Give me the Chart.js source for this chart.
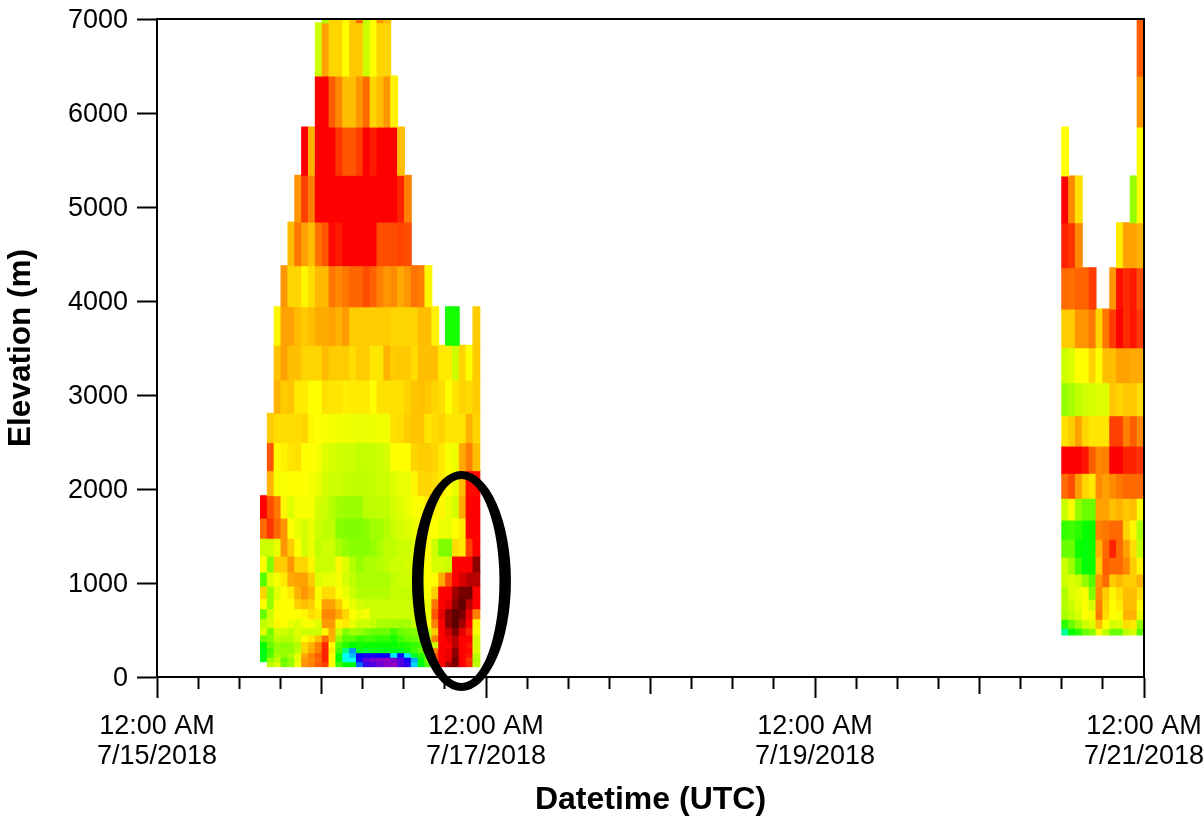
<!DOCTYPE html>
<html><head><meta charset="utf-8">
<style>html,body{margin:0;padding:0;background:#fff}#w{width:1204px;height:822px;position:relative}canvas{filter:blur(0.5px)}</style>
<script src="https://cdn.jsdelivr.net/npm/chart.js@4"></script>
</head><body><div id="w"><canvas id="c" width="1204" height="822"></canvas></div>
<script>
const xTickHours = [0,6,12,18,24,30,36,42,48,54,60,66,72,78,84,90,96,102,108,114,120,126,132,138,144];
const xLabels = {0:['12:00 AM','7/15/2018'],48:['12:00 AM','7/17/2018'],96:['12:00 AM','7/19/2018'],144:['12:00 AM','7/21/2018']};
const yTicks = [0,1000,2000,3000,4000,5000,6000,7000];
const xTitle = 'Datetime (UTC)';
const yTitle = 'Elevation (m)';

// Gate edges (m), top to bottom
const leftEdges = [7000,6960,6394,5851,5337,4840,4376,3939,3529,3160,2805,2493,2195,1929,1691,1476,1287,1117,968,833,727,620,524,447,376,312,259,210,163,110];
const rightEdges = [7000,6394,5851,5330,4833,4354,3915,3503,3131,2780,2457,2167,1901,1670,1465,1273,1096,961,827,713,614,518,447];
const leftStartHour = 15.1;
const rightStartHour = 132;

// Colour index per gate: hue in degrees; negative = darker than red
const leftStartCol = [9,8,8,6,5,4,3,2,2,2,1,1,1,0,0,0,0,0,0,0,0,0,0,0,0,0,0,0,0];
const leftRows = [
[80,50,50,58,47,25,75,60,35,45],
[72,38,50,50,60,47,47,72,60,50,50],
[0,0,22,32,45,45,35,25,50,45,35,57],
[0,42,0,0,0,12,20,20,14,0,6,0,0,0,45],
[35,15,30,0,0,0,0,0,0,0,0,0,0,0,0,8,30],
[45,28,38,45,27,20,2,6,0,0,0,0,0,18,18,18,16,18],
[35,50,50,58,52,44,44,28,32,28,24,24,18,23,30,35,33,40,35,27,30,58],
[58,38,38,44,47,45,40,40,38,42,36,48,48,48,48,48,48,50,50,50,50,45,45,57,null,115,115,null,null,48],
[46,38,45,45,50,50,50,44,48,48,48,52,48,48,54,54,42,48,47,47,52,45,45,45,55,55,72,50,60,48],
[42,48,46,55,55,60,60,53,54,54,56,55,55,55,60,53,53,53,53,50,46,45,47,50,52,60,54,50,52,48],
[48,52,52,52,52,50,58,60,61,62,63,63,64,65,65,64,63,63,53,52,48,46,46,54,52,50,54,54,54,42,50],
[20,60,57,54,53,60,60,62,68,70,71,72,72,74,74,73,72,70,60,60,60,50,48,48,50,55,62,64,40,30,45],
[42,62,62,60,60,60,62,65,70,72,72,74,75,75,75,74,72,72,68,65,65,58,50,50,52,55,60,65,45,2,2],
[0,18,28,58,68,62,62,62,70,72,78,82,84,84,84,76,75,75,75,70,68,65,62,60,55,58,58,65,70,40,0,0],
[25,12,25,35,60,65,70,65,72,75,75,88,90,90,90,88,82,82,78,72,70,68,65,60,60,60,65,65,60,55,0,0],
[72,72,65,35,48,60,70,65,75,72,72,80,85,88,88,88,85,80,75,75,72,72,68,65,60,72,90,90,52,55,15,0],
[60,90,48,48,35,50,50,58,72,72,72,58,68,78,85,80,80,78,75,72,72,70,68,62,60,70,70,72,0,0,0,-25],
[100,68,62,55,40,38,38,48,68,65,65,62,70,75,80,80,80,80,80,75,72,72,70,65,60,60,40,18,0,-8,-15,-15],
[50,85,68,60,55,42,35,42,62,52,52,60,65,72,78,78,78,78,78,74,74,74,74,68,62,48,0,0,-20,-30,-30,0],
[60,85,62,60,60,48,45,48,60,38,38,48,60,65,70,72,72,72,72,72,72,72,70,68,65,28,0,-5,-25,-35,-15,0],
[95,72,60,60,60,60,58,52,55,32,32,40,50,60,65,62,72,72,72,72,72,72,72,70,65,20,-5,-25,-35,-30,-5,30],
[75,70,58,60,65,68,62,62,68,36,36,58,55,65,72,72,75,80,80,80,82,82,75,70,60,30,0,-25,-35,-20,0,58],
[68,92,70,72,75,68,72,72,72,58,40,72,90,82,85,90,95,95,95,105,95,92,90,80,75,48,0,-10,-28,-5,8,62],
[95,90,75,78,78,70,60,55,45,25,42,85,100,100,108,105,105,110,108,115,105,98,95,88,78,30,0,-5,-15,0,0,70],
[120,95,85,88,85,78,50,42,30,10,60,100,110,120,115,118,118,118,118,118,115,112,108,105,95,72,0,0,-15,0,5,70],
[125,105,85,85,85,75,50,40,30,8,55,105,150,205,125,130,125,125,125,125,125,115,105,95,88,30,0,-5,-25,0,2,68],
[125,100,80,85,80,65,40,30,22,8,60,118,180,195,240,245,245,240,240,185,235,185,130,110,95,20,0,-3,-25,0,5,75],
[125,85,75,95,85,65,35,32,25,8,60,120,175,180,245,265,275,280,285,275,260,245,200,120,90,20,0,-5,-30,0,12,80],
[null,75,68,92,85,62,35,30,22,15,60,105,120,120,215,255,260,270,280,285,262,250,190,125,100,60,0,-20,-28,0,10,75]
];
const n = null;
const rightRows = [
[n,n,n,n,n,n,n,n,n,n,n,22],
[n,n,n,n,n,n,n,n,n,n,n,35],
[60,n,n,n,n,n,n,n,n,n,n,60],
[0,33,53,n,n,n,n,n,n,n,85,60],
[8,12,32,n,n,n,n,n,55,38,38,42],
[25,26,23,23,14,n,n,35,3,10,6,18],
[48,48,35,35,28,50,28,14,0,10,5,14],
[72,68,60,60,50,60,45,45,38,38,40,40],
[85,80,75,72,70,68,68,47,50,47,47,52],
[53,48,38,50,54,54,54,15,15,30,22,32],
[0,0,0,5,22,32,30,0,0,8,8,12],
[25,18,37,50,55,33,38,33,28,25,25,25],
[72,62,85,95,95,38,38,45,42,47,45,62],
[108,105,110,118,120,30,28,25,25,50,58,80],
[95,95,118,122,118,42,25,8,25,38,52,75],
[72,82,105,122,120,48,22,25,25,32,48,58],
[72,68,72,85,100,35,25,48,43,48,48,42],
[78,68,65,62,90,33,48,58,52,45,45,52],
[78,72,66,62,70,30,50,60,55,45,45,60],
[80,75,70,60,62,28,52,60,62,42,42,65],
[110,95,82,72,68,45,60,70,68,52,55,85],
[155,120,110,95,88,62,75,95,95,75,70,100]
];

// Ellipse annotation in data units: centre, outer and inner half-sizes
const ringHour = 44.42, ringElev = 1021;
const ringOuter = [7.22, 1170], ringInner = [5.54, 1085];

function cellColor(v){
  if (v < 0) return `hsl(0,100%,${50 + v * 0.9}%)`;
  if (v > 240) return `hsl(${v},100%,${50 - (v - 240) * 0.27}%)`;
  return `hsl(${v},100%,50%)`;
}
function addCells(sets, rows, edges, startHour, startCols){
  rows.forEach((row, r) => {
    const pts = [], cols = [];
    row.forEach((v, i) => {
      if (v === null) return;
      const col = (startCols ? startCols[r] : 0) + i;
      pts.push({x: startHour + col + 0.5, y: [edges[r + 1], edges[r]]});
      cols.push(cellColor(v));
    });
    sets.push({data: pts, backgroundColor: cols, grouped: false, barPercentage: 1, categoryPercentage: 1, borderWidth: 0, inflateAmount: 0.5});
  });
}
const datasets = [];
addCells(datasets, leftRows, leftEdges, leftStartHour, leftStartCol);
addCells(datasets, rightRows, rightEdges, rightStartHour, null);

const ringPlugin = {id:'ring', afterDraw(ch){
  const sx = ch.scales.x, sy = ch.scales.y, g = ch.ctx;
  const cx = sx.getPixelForValue(ringHour), cy = sy.getPixelForValue(ringElev);
  g.save(); g.beginPath();
  [ringOuter, ringInner].forEach(([dh, de]) => {
    const rx = sx.getPixelForValue(ringHour + dh) - cx;
    const ry = cy - sy.getPixelForValue(ringElev + de);
    g.moveTo(cx + rx, cy);
    g.ellipse(cx, cy, rx, ry, 0, 0, Math.PI * 2);
  });
  g.fillStyle = '#000'; g.fill('evenodd'); g.restore();
}};
const FONT = '"Liberation Sans", Arial, sans-serif';
const tickDash = ctx => {
  const h = ctx.tick ? ctx.tick.value : 0;
  if (h % 48 === 0) return [];
  return h % 24 === 0 ? [16, 100] : [11, 100];
};
new Chart(document.getElementById('c'), {
  type: 'bar',
  data: {datasets},
  options: {
    responsive: false, animation: false,
    layout: {padding: {top: 19, right: 60, left: 0, bottom: 0}},
    plugins: {legend: {display: false}, tooltip: {enabled: false}},
    scales: {
      x: {
        type: 'linear', min: 0, max: 144, offset: false,
        afterBuildTicks(s){ s.ticks = xTickHours.map(v => ({value: v})); },
        afterFit(s){ s.height = 145; s.paddingLeft = 0; s.paddingRight = 0; },
        grid: {offset: false, drawOnChartArea: false, drawTicks: true, tickLength: 21, tickColor: '#000', tickWidth: 2, tickBorderDash: tickDash},
        border: {color: '#000', width: 2, z: 1},
        ticks: {autoSkip: false, maxRotation: 0, minRotation: 0, padding: 14, color: '#000',
          font: {family: FONT, size: 27, lineHeight: 1.11},
          callback: v => xLabels[v] || ''},
        title: {display: true, text: xTitle, color: '#000', font: {family: FONT, size: 32, weight: 'bold'}, padding: {top: 0, bottom: 3}}
      },
      y: {
        type: 'linear', min: 0, max: 7000,
        afterBuildTicks(s){ s.ticks = yTicks.map(v => ({value: v})); },
        afterFit(s){ s.width = 157; s.paddingTop = 0; s.paddingBottom = 0; },
        grid: {drawOnChartArea: false, tickLength: 20, tickColor: '#000', tickWidth: 2},
        border: {color: '#000', width: 2, z: 1},
        ticks: {padding: 9, labelOffset: 2, color: '#000', font: {family: FONT, size: 27}, callback: v => String(v)},
        title: {display: true, text: yTitle, color: '#000', font: {family: FONT, size: 31.5, weight: 'bold'}, padding: {top: 2, bottom: 0}}
      },
      xTop: {
        type: 'linear', position: 'top', min: 0, max: 144,
        afterFit(s){ s.height = 0; s.paddingLeft = 0; s.paddingRight = 0; },
        grid: {display: false, drawTicks: false}, ticks: {display: false},
        border: {color: '#000', width: 2, z: 1}
      },
      yRight: {
        type: 'linear', position: 'right', min: 0, max: 7000,
        afterFit(s){ s.width = 0; s.paddingTop = 0; s.paddingBottom = 0; },
        grid: {display: false, drawTicks: false}, ticks: {display: false},
        border: {color: '#000', width: 2, z: 1}
      }
    }
  },
  plugins: [ringPlugin]
});
</script></body></html>
